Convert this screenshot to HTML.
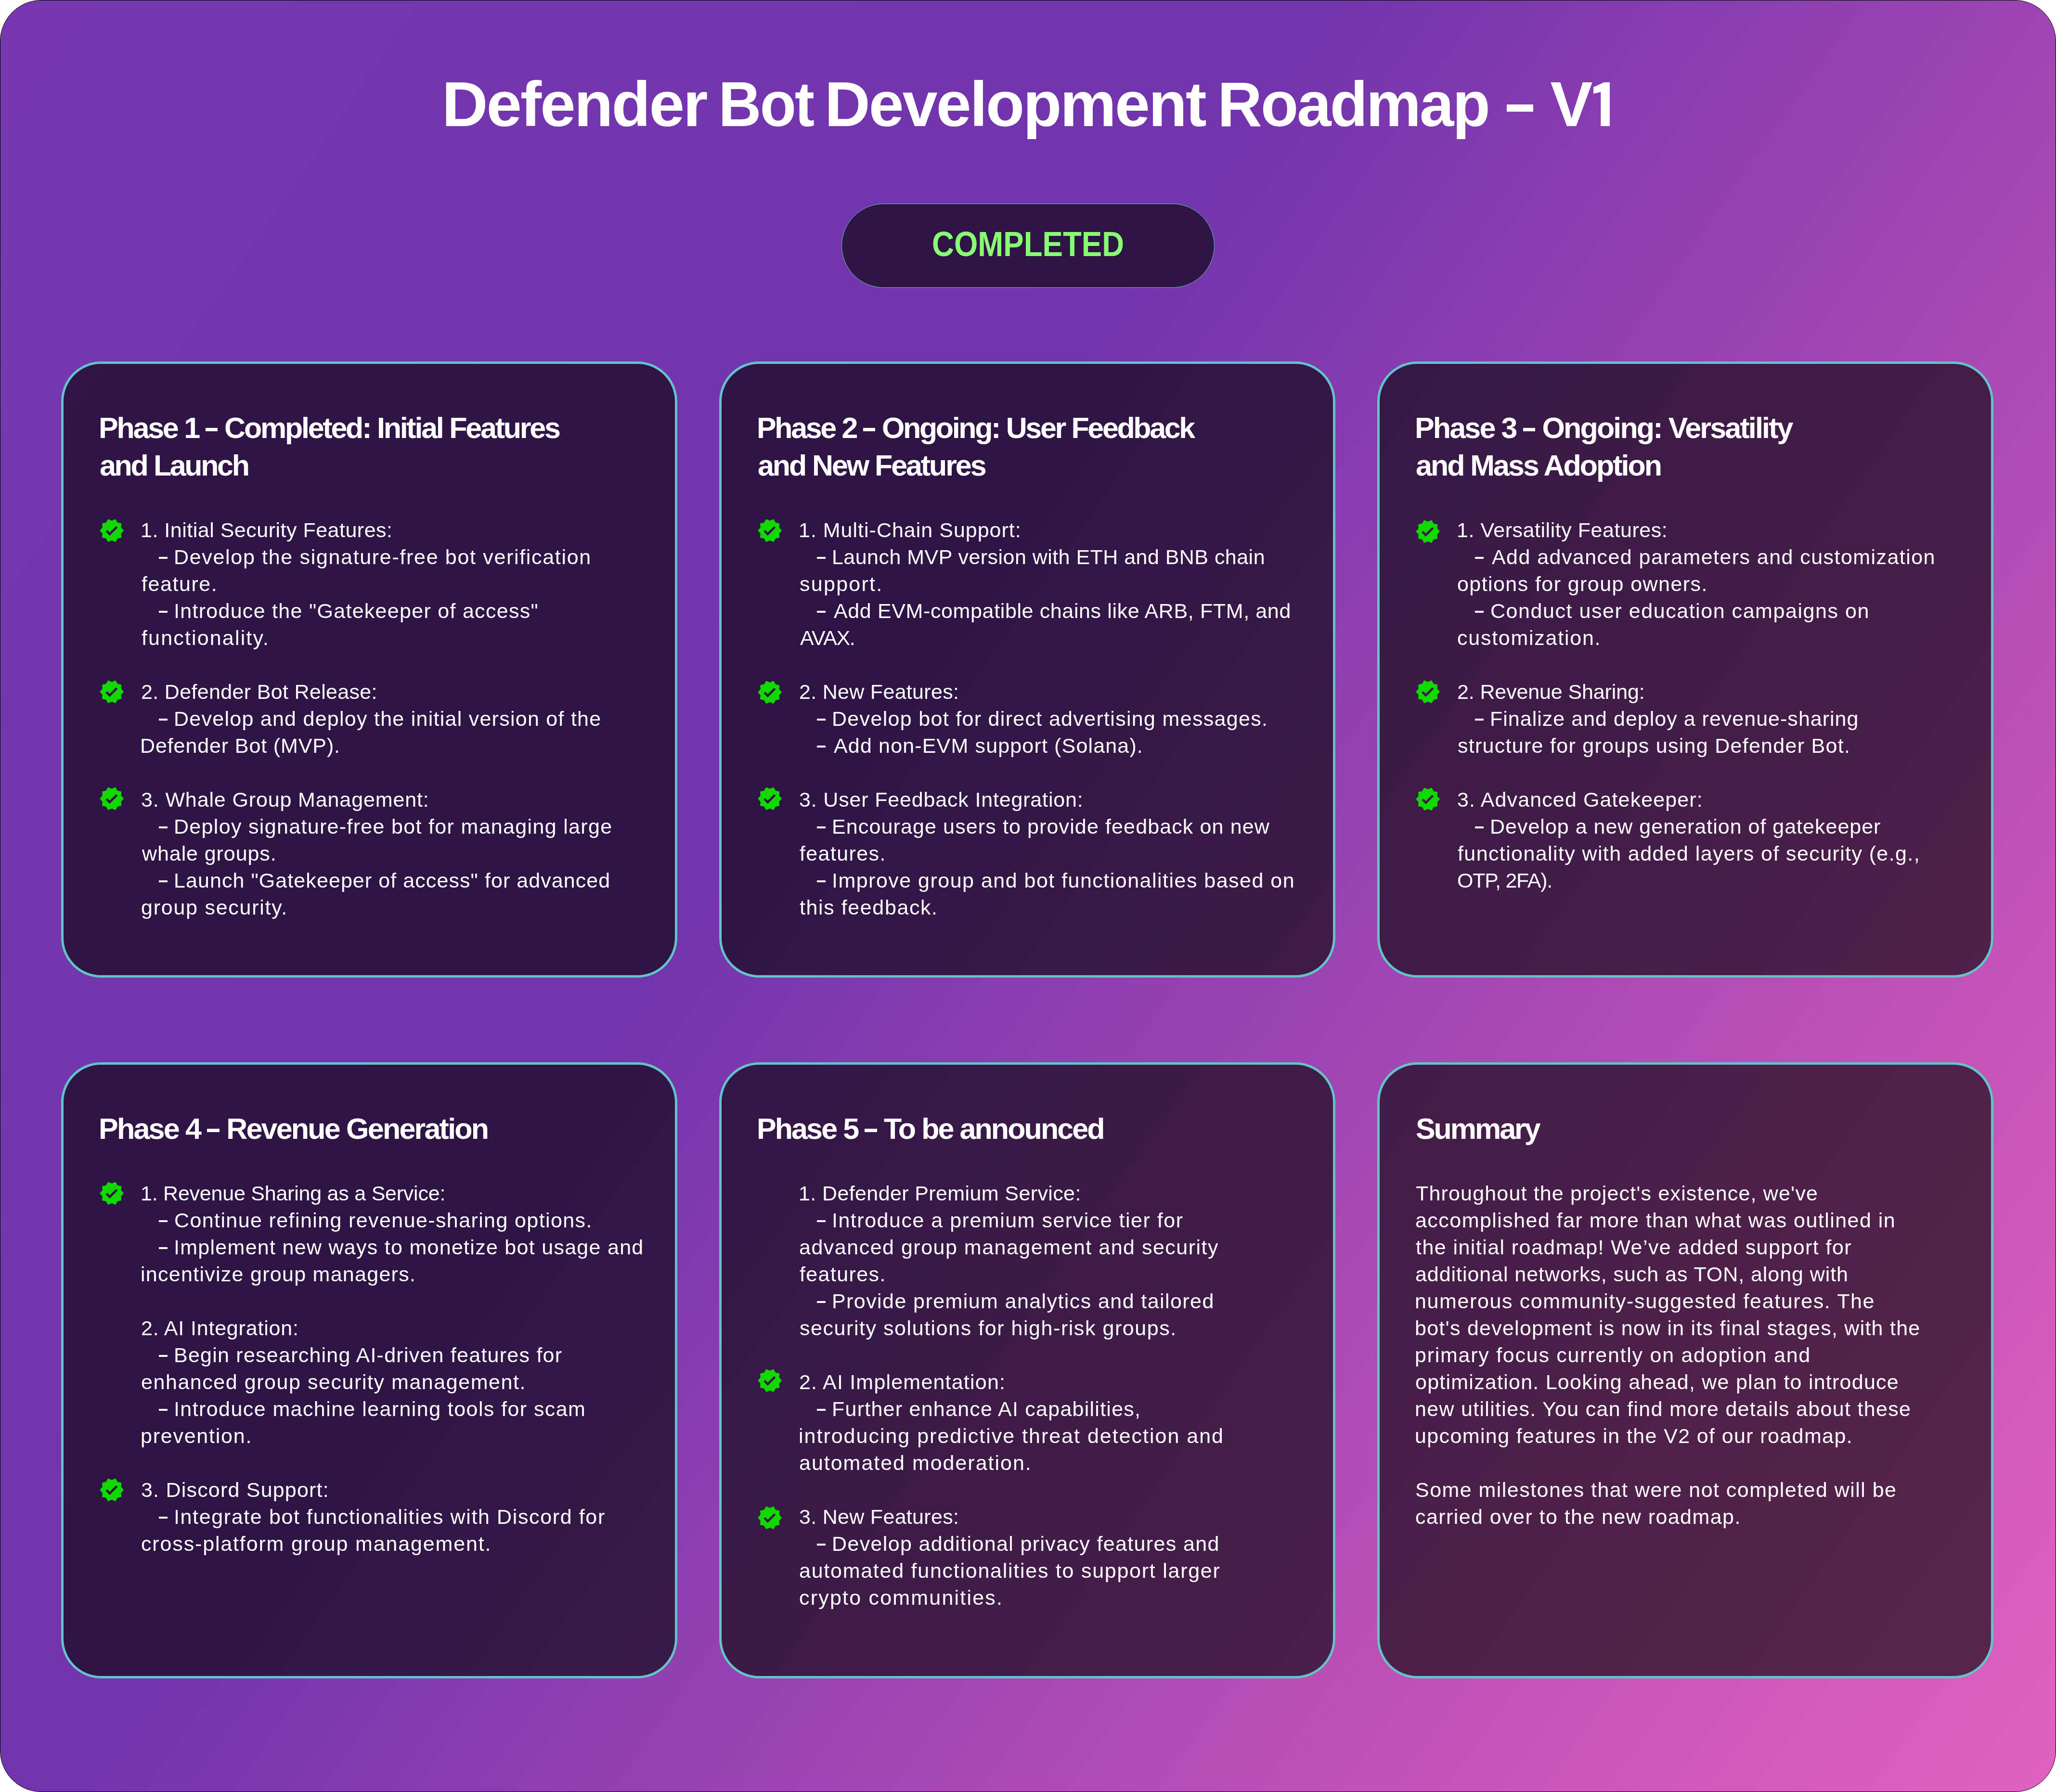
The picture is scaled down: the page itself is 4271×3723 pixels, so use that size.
<!DOCTYPE html>
<html><head><meta charset="utf-8"><title>Defender Bot Development Roadmap - V1</title>
<style>
html,body{margin:0;padding:0;background:#fff;}
body{width:4271px;height:3723px;position:relative;overflow:hidden;font-family:"Liberation Sans",sans-serif;}
.frame{position:absolute;left:0;top:0;width:4269px;height:3721px;border:1px solid #000;border-radius:86px;
 background:linear-gradient(125deg,#7637b0 0%,#7234ad 40%,#c453b8 81%,#e062bf 100%);overflow:hidden}
.card{position:absolute;width:1270px;height:1270px;border:5px solid #62c3c9;border-radius:83px;background:rgba(0,0,0,0.6);}
.hd{position:absolute;white-space:pre;will-change:transform;color:#fff;font-weight:700;font-size:61.0px;line-height:78px;}
.bd{position:absolute;white-space:pre;will-change:transform;color:#fff;font-weight:400;font-size:43.0px;line-height:56px;}
.icw{position:absolute;width:54.4px;height:54.4px}
.ic{width:54.4px;height:54.4px;display:block;fill:#10d800}
.title{position:absolute;top:132.54px;line-height:167.44px;white-space:pre;color:#fff;font-weight:700;font-size:132.0px;}
.tbar{position:absolute;left:3130px;top:217px;width:55px;height:15px;background:#fff}
.bdash{position:absolute;width:17.8px;height:3.9px;background:#fff}
.db{display:inline-block;width:25.7px;height:7px;background:#fff;margin-bottom:14px}
.pill{position:absolute;left:1748px;top:423px;width:773px;height:173px;border:1.2px solid #62c3c9;border-radius:88px;background:rgba(0,0,0,0.6)}
.cmp{position:absolute;left:1936.0px;white-space:pre;color:#88ff72;font-weight:700;font-size:71.5px;letter-spacing:0px;line-height:100px;transform:scaleX(0.889);transform-origin:0 0}
</style></head><body>
<div class="frame"></div>
<div class="title" id="t0" style="left:918.07px;letter-spacing:-3.000px;transform:scaleX(1.0024);transform-origin:8.83px 0">Defender</div>
<div class="title" id="t1" style="left:1491.57px;letter-spacing:-3.000px;transform:scaleX(0.9324);transform-origin:8.83px 0">Bot</div>
<div class="title" id="t2" style="left:1712.87px;letter-spacing:-3.000px;transform:scaleX(0.9935);transform-origin:8.83px 0">Development</div>
<div class="title" id="t3" style="left:2528.87px;letter-spacing:-3.000px;transform:scaleX(0.9710);transform-origin:8.83px 0">Roadmap</div>

<div class="tbar"></div>
<div class="title" id="title2" style="left:3220.4px;letter-spacing:-4.0px">V</div>
<svg style="position:absolute;left:3300px;top:160px" width="60" height="110" viewBox="3300 160 60 110"><polygon fill="#fff" points="3332.3,170.9 3344,170.9 3344,262 3325.3,262 3325.3,191 3310.1,194.7 3310.1,181.1"/></svg>
<div class="pill"></div>
<div class="cmp" id="cmp" style="top:456.73px">COMPLETED</div>
<div class="card" style="left:127px;top:751px"></div>
<div class="card" style="left:1494px;top:751px"></div>
<div class="card" style="left:2861px;top:751px"></div>
<div class="card" style="left:127px;top:2207px"></div>
<div class="card" style="left:1494px;top:2207px"></div>
<div class="card" style="left:2861px;top:2207px"></div>
<div id="h0_0" class="hd" style="left:204.92px;top:849.50px;letter-spacing:-3.236px">Phase 1 <span class=db></span> Completed: Initial Features</div>
<div id="h0_1" class="hd" style="left:207.21px;top:927.50px;letter-spacing:-3.377px">and Launch</div>
<div id="b0_0" class="bd" style="left:291.72px;top:1073.00px;letter-spacing:0.499px">1. Initial Security Features:</div>
<div class="icw" style="left:204.60px;top:1075.20px"><svg class="ic" viewBox="0 0 24 24"><path d="M23 12l-2.44-2.79.34-3.69-3.61-.82-1.89-3.2L12 2.96 8.6 1.5 6.71 4.69 3.1 5.5l.34 3.7L1 12l2.44 2.79-.34 3.7 3.61.82L8.6 22.5l3.4-1.47 3.4 1.46 1.89-3.19 3.61-.82-.34-3.69L23 12zm-12.91 4.72l-3.8-3.81 1.48-1.48 2.32 2.33 5.85-5.87 1.48 1.48-7.33 7.35z"/></svg></div>
<div class="bdash" style="left:330.00px;top:1157.15px"></div>
<div id="b0_1" class="bd" style="left:361.07px;top:1129.00px;letter-spacing:1.672px">Develop the signature-free bot verification</div>
<div id="b0_2" class="bd" style="left:294.39px;top:1185.00px;letter-spacing:1.548px">feature.</div>
<div class="bdash" style="left:330.00px;top:1269.15px"></div>
<div id="b0_3" class="bd" style="left:360.63px;top:1241.00px;letter-spacing:1.284px">Introduce the "Gatekeeper of access"</div>
<div id="b0_4" class="bd" style="left:294.39px;top:1297.00px;letter-spacing:2.158px">functionality.</div>
<div id="b0_6" class="bd" style="left:292.84px;top:1409.00px;letter-spacing:0.335px">2. Defender Bot Release:</div>
<div class="icw" style="left:204.60px;top:1409.50px"><svg class="ic" viewBox="0 0 24 24"><path d="M23 12l-2.44-2.79.34-3.69-3.61-.82-1.89-3.2L12 2.96 8.6 1.5 6.71 4.69 3.1 5.5l.34 3.7L1 12l2.44 2.79-.34 3.7 3.61.82L8.6 22.5l3.4-1.47 3.4 1.46 1.89-3.19 3.61-.82-.34-3.69L23 12zm-12.91 4.72l-3.8-3.81 1.48-1.48 2.32 2.33 5.85-5.87 1.48 1.48-7.33 7.35z"/></svg></div>
<div class="bdash" style="left:330.00px;top:1493.15px"></div>
<div id="b0_7" class="bd" style="left:361.07px;top:1465.00px;letter-spacing:1.257px">Develop and deploy the initial version of the</div>
<div id="b0_8" class="bd" style="left:291.47px;top:1521.00px;letter-spacing:0.887px">Defender Bot (MVP).</div>
<div id="b0_10" class="bd" style="left:293.36px;top:1633.00px;letter-spacing:0.868px">3. Whale Group Management:</div>
<div class="icw" style="left:204.60px;top:1631.90px"><svg class="ic" viewBox="0 0 24 24"><path d="M23 12l-2.44-2.79.34-3.69-3.61-.82-1.89-3.2L12 2.96 8.6 1.5 6.71 4.69 3.1 5.5l.34 3.7L1 12l2.44 2.79-.34 3.7 3.61.82L8.6 22.5l3.4-1.47 3.4 1.46 1.89-3.19 3.61-.82-.34-3.69L23 12zm-12.91 4.72l-3.8-3.81 1.48-1.48 2.32 2.33 5.85-5.87 1.48 1.48-7.33 7.35z"/></svg></div>
<div class="bdash" style="left:330.00px;top:1717.15px"></div>
<div id="b0_11" class="bd" style="left:361.07px;top:1689.00px;letter-spacing:1.320px">Deploy signature-free bot for managing large</div>
<div id="b0_12" class="bd" style="left:295.06px;top:1745.00px;letter-spacing:0.915px">whale groups.</div>
<div class="bdash" style="left:330.00px;top:1829.15px"></div>
<div id="b0_13" class="bd" style="left:361.07px;top:1801.00px;letter-spacing:1.070px">Launch "Gatekeeper of access" for advanced</div>
<div id="b0_14" class="bd" style="left:293.19px;top:1857.00px;letter-spacing:1.748px">group security.</div>
<div id="h1_0" class="hd" style="left:1571.92px;top:849.50px;letter-spacing:-3.362px">Phase 2 <span class=db></span> Ongoing: User Feedback</div>
<div id="h1_1" class="hd" style="left:1574.21px;top:927.50px;letter-spacing:-3.098px">and New Features</div>
<div id="b1_0" class="bd" style="left:1658.72px;top:1073.00px;letter-spacing:0.999px">1. Multi-Chain Support:</div>
<div class="icw" style="left:1571.60px;top:1075.00px"><svg class="ic" viewBox="0 0 24 24"><path d="M23 12l-2.44-2.79.34-3.69-3.61-.82-1.89-3.2L12 2.96 8.6 1.5 6.71 4.69 3.1 5.5l.34 3.7L1 12l2.44 2.79-.34 3.7 3.61.82L8.6 22.5l3.4-1.47 3.4 1.46 1.89-3.19 3.61-.82-.34-3.69L23 12zm-12.91 4.72l-3.8-3.81 1.48-1.48 2.32 2.33 5.85-5.87 1.48 1.48-7.33 7.35z"/></svg></div>
<div class="bdash" style="left:1697.00px;top:1157.15px"></div>
<div id="b1_1" class="bd" style="left:1728.07px;top:1129.00px;letter-spacing:0.460px">Launch MVP version with ETH and BNB chain</div>
<div id="b1_2" class="bd" style="left:1660.80px;top:1185.00px;letter-spacing:2.266px">support.</div>
<div class="bdash" style="left:1697.00px;top:1269.15px"></div>
<div id="b1_3" class="bd" style="left:1731.52px;top:1241.00px;letter-spacing:0.624px">Add EVM-compatible chains like ARB, FTM, and</div>
<div id="b1_4" class="bd" style="left:1661.92px;top:1297.00px;letter-spacing:-1.425px">AVAX.</div>
<div id="b1_6" class="bd" style="left:1659.84px;top:1409.00px;letter-spacing:0.299px">2. New Features:</div>
<div class="icw" style="left:1571.60px;top:1411.30px"><svg class="ic" viewBox="0 0 24 24"><path d="M23 12l-2.44-2.79.34-3.69-3.61-.82-1.89-3.2L12 2.96 8.6 1.5 6.71 4.69 3.1 5.5l.34 3.7L1 12l2.44 2.79-.34 3.7 3.61.82L8.6 22.5l3.4-1.47 3.4 1.46 1.89-3.19 3.61-.82-.34-3.69L23 12zm-12.91 4.72l-3.8-3.81 1.48-1.48 2.32 2.33 5.85-5.87 1.48 1.48-7.33 7.35z"/></svg></div>
<div class="bdash" style="left:1697.00px;top:1493.15px"></div>
<div id="b1_7" class="bd" style="left:1728.07px;top:1465.00px;letter-spacing:1.314px">Develop bot for direct advertising messages.</div>
<div class="bdash" style="left:1697.00px;top:1549.15px"></div>
<div id="b1_8" class="bd" style="left:1731.52px;top:1521.00px;letter-spacing:1.154px">Add non-EVM support (Solana).</div>
<div id="b1_10" class="bd" style="left:1660.36px;top:1633.00px;letter-spacing:0.830px">3. User Feedback Integration:</div>
<div class="icw" style="left:1571.60px;top:1631.90px"><svg class="ic" viewBox="0 0 24 24"><path d="M23 12l-2.44-2.79.34-3.69-3.61-.82-1.89-3.2L12 2.96 8.6 1.5 6.71 4.69 3.1 5.5l.34 3.7L1 12l2.44 2.79-.34 3.7 3.61.82L8.6 22.5l3.4-1.47 3.4 1.46 1.89-3.19 3.61-.82-.34-3.69L23 12zm-12.91 4.72l-3.8-3.81 1.48-1.48 2.32 2.33 5.85-5.87 1.48 1.48-7.33 7.35z"/></svg></div>
<div class="bdash" style="left:1697.00px;top:1717.15px"></div>
<div id="b1_11" class="bd" style="left:1728.07px;top:1689.00px;letter-spacing:1.118px">Encourage users to provide feedback on new</div>
<div id="b1_12" class="bd" style="left:1661.39px;top:1745.00px;letter-spacing:1.380px">features.</div>
<div class="bdash" style="left:1697.00px;top:1829.15px"></div>
<div id="b1_13" class="bd" style="left:1727.63px;top:1801.00px;letter-spacing:1.479px">Improve group and bot functionalities based on</div>
<div id="b1_14" class="bd" style="left:1661.35px;top:1857.00px;letter-spacing:1.592px">this feedback.</div>
<div id="h2_0" class="hd" style="left:2938.92px;top:849.50px;letter-spacing:-2.852px">Phase 3 <span class=db></span> Ongoing: Versatility</div>
<div id="h2_1" class="hd" style="left:2941.21px;top:927.50px;letter-spacing:-3.020px">and Mass Adoption</div>
<div id="b2_0" class="bd" style="left:3025.72px;top:1073.00px;letter-spacing:0.533px">1. Versatility Features:</div>
<div class="icw" style="left:2938.60px;top:1076.90px"><svg class="ic" viewBox="0 0 24 24"><path d="M23 12l-2.44-2.79.34-3.69-3.61-.82-1.89-3.2L12 2.96 8.6 1.5 6.71 4.69 3.1 5.5l.34 3.7L1 12l2.44 2.79-.34 3.7 3.61.82L8.6 22.5l3.4-1.47 3.4 1.46 1.89-3.19 3.61-.82-.34-3.69L23 12zm-12.91 4.72l-3.8-3.81 1.48-1.48 2.32 2.33 5.85-5.87 1.48 1.48-7.33 7.35z"/></svg></div>
<div class="bdash" style="left:3064.00px;top:1157.15px"></div>
<div id="b2_1" class="bd" style="left:3098.52px;top:1129.00px;letter-spacing:1.440px">Add advanced parameters and customization</div>
<div id="b2_2" class="bd" style="left:3027.19px;top:1185.00px;letter-spacing:1.421px">options for group owners.</div>
<div class="bdash" style="left:3064.00px;top:1269.15px"></div>
<div id="b2_3" class="bd" style="left:3096.42px;top:1241.00px;letter-spacing:1.543px">Conduct user education campaigns on</div>
<div id="b2_4" class="bd" style="left:3027.17px;top:1297.00px;letter-spacing:1.746px">customization.</div>
<div id="b2_6" class="bd" style="left:3026.84px;top:1409.00px;letter-spacing:-0.130px">2. Revenue Sharing:</div>
<div class="icw" style="left:2938.60px;top:1410.20px"><svg class="ic" viewBox="0 0 24 24"><path d="M23 12l-2.44-2.79.34-3.69-3.61-.82-1.89-3.2L12 2.96 8.6 1.5 6.71 4.69 3.1 5.5l.34 3.7L1 12l2.44 2.79-.34 3.7 3.61.82L8.6 22.5l3.4-1.47 3.4 1.46 1.89-3.19 3.61-.82-.34-3.69L23 12zm-12.91 4.72l-3.8-3.81 1.48-1.48 2.32 2.33 5.85-5.87 1.48 1.48-7.33 7.35z"/></svg></div>
<div class="bdash" style="left:3064.00px;top:1493.15px"></div>
<div id="b2_7" class="bd" style="left:3095.07px;top:1465.00px;letter-spacing:1.011px">Finalize and deploy a revenue-sharing</div>
<div id="b2_8" class="bd" style="left:3027.80px;top:1521.00px;letter-spacing:1.282px">structure for groups using Defender Bot.</div>
<div id="b2_10" class="bd" style="left:3027.36px;top:1633.00px;letter-spacing:1.111px">3. Advanced Gatekeeper:</div>
<div class="icw" style="left:2938.60px;top:1633.00px"><svg class="ic" viewBox="0 0 24 24"><path d="M23 12l-2.44-2.79.34-3.69-3.61-.82-1.89-3.2L12 2.96 8.6 1.5 6.71 4.69 3.1 5.5l.34 3.7L1 12l2.44 2.79-.34 3.7 3.61.82L8.6 22.5l3.4-1.47 3.4 1.46 1.89-3.19 3.61-.82-.34-3.69L23 12zm-12.91 4.72l-3.8-3.81 1.48-1.48 2.32 2.33 5.85-5.87 1.48 1.48-7.33 7.35z"/></svg></div>
<div class="bdash" style="left:3064.00px;top:1717.15px"></div>
<div id="b2_11" class="bd" style="left:3095.07px;top:1689.00px;letter-spacing:0.997px">Develop a new generation of gatekeeper</div>
<div id="b2_12" class="bd" style="left:3028.39px;top:1745.00px;letter-spacing:1.390px">functionality with added layers of security (e.g.,</div>
<div id="b2_13" class="bd" style="left:3026.96px;top:1801.00px;letter-spacing:-1.258px">OTP, 2FA).</div>
<div id="h3_0" class="hd" style="left:204.92px;top:2305.50px;letter-spacing:-2.783px">Phase 4 <span class=db></span> Revenue Generation</div>
<div id="b3_0" class="bd" style="left:291.72px;top:2451.00px;letter-spacing:-0.234px">1. Revenue Sharing as a Service:</div>
<div class="icw" style="left:204.60px;top:2452.40px"><svg class="ic" viewBox="0 0 24 24"><path d="M23 12l-2.44-2.79.34-3.69-3.61-.82-1.89-3.2L12 2.96 8.6 1.5 6.71 4.69 3.1 5.5l.34 3.7L1 12l2.44 2.79-.34 3.7 3.61.82L8.6 22.5l3.4-1.47 3.4 1.46 1.89-3.19 3.61-.82-.34-3.69L23 12zm-12.91 4.72l-3.8-3.81 1.48-1.48 2.32 2.33 5.85-5.87 1.48 1.48-7.33 7.35z"/></svg></div>
<div class="bdash" style="left:330.00px;top:2535.15px"></div>
<div id="b3_1" class="bd" style="left:362.42px;top:2507.00px;letter-spacing:1.392px">Continue refining revenue-sharing options.</div>
<div class="bdash" style="left:330.00px;top:2591.15px"></div>
<div id="b3_2" class="bd" style="left:360.63px;top:2563.00px;letter-spacing:1.280px">Implement new ways to monetize bot usage and</div>
<div id="b3_3" class="bd" style="left:292.12px;top:2619.00px;letter-spacing:1.274px">incentivize group managers.</div>
<div id="b3_5" class="bd" style="left:292.84px;top:2731.00px;letter-spacing:0.813px">2. AI Integration:</div>
<div class="bdash" style="left:330.00px;top:2815.15px"></div>
<div id="b3_6" class="bd" style="left:361.07px;top:2787.00px;letter-spacing:1.240px">Begin researching AI-driven features for</div>
<div id="b3_7" class="bd" style="left:293.17px;top:2843.00px;letter-spacing:1.548px">enhanced group security management.</div>
<div class="bdash" style="left:330.00px;top:2927.15px"></div>
<div id="b3_8" class="bd" style="left:360.63px;top:2899.00px;letter-spacing:1.415px">Introduce machine learning tools for scam</div>
<div id="b3_9" class="bd" style="left:292.23px;top:2955.00px;letter-spacing:1.760px">prevention.</div>
<div id="b3_11" class="bd" style="left:293.36px;top:3067.00px;letter-spacing:1.203px">3. Discord Support:</div>
<div class="icw" style="left:204.60px;top:3067.70px"><svg class="ic" viewBox="0 0 24 24"><path d="M23 12l-2.44-2.79.34-3.69-3.61-.82-1.89-3.2L12 2.96 8.6 1.5 6.71 4.69 3.1 5.5l.34 3.7L1 12l2.44 2.79-.34 3.7 3.61.82L8.6 22.5l3.4-1.47 3.4 1.46 1.89-3.19 3.61-.82-.34-3.69L23 12zm-12.91 4.72l-3.8-3.81 1.48-1.48 2.32 2.33 5.85-5.87 1.48 1.48-7.33 7.35z"/></svg></div>
<div class="bdash" style="left:330.00px;top:3151.15px"></div>
<div id="b3_12" class="bd" style="left:360.63px;top:3123.00px;letter-spacing:1.623px">Integrate bot functionalities with Discord for</div>
<div id="b3_13" class="bd" style="left:293.17px;top:3179.00px;letter-spacing:1.848px">cross-platform group management.</div>
<div id="h4_0" class="hd" style="left:1571.92px;top:2305.50px;letter-spacing:-2.917px">Phase 5 <span class=db></span> To be announced</div>
<div id="b4_0" class="bd" style="left:1658.72px;top:2451.00px;letter-spacing:0.385px">1. Defender Premium Service:</div>
<div class="bdash" style="left:1697.00px;top:2535.15px"></div>
<div id="b4_1" class="bd" style="left:1727.63px;top:2507.00px;letter-spacing:1.504px">Introduce a premium service tier for</div>
<div id="b4_2" class="bd" style="left:1660.17px;top:2563.00px;letter-spacing:1.497px">advanced group management and security</div>
<div id="b4_3" class="bd" style="left:1661.39px;top:2619.00px;letter-spacing:1.380px">features.</div>
<div class="bdash" style="left:1697.00px;top:2703.15px"></div>
<div id="b4_4" class="bd" style="left:1728.07px;top:2675.00px;letter-spacing:1.416px">Provide premium analytics and tailored</div>
<div id="b4_5" class="bd" style="left:1660.80px;top:2731.00px;letter-spacing:1.550px">security solutions for high-risk groups.</div>
<div id="b4_7" class="bd" style="left:1659.84px;top:2843.00px;letter-spacing:1.200px">2. AI Implementation:</div>
<div class="icw" style="left:1571.60px;top:2840.50px"><svg class="ic" viewBox="0 0 24 24"><path d="M23 12l-2.44-2.79.34-3.69-3.61-.82-1.89-3.2L12 2.96 8.6 1.5 6.71 4.69 3.1 5.5l.34 3.7L1 12l2.44 2.79-.34 3.7 3.61.82L8.6 22.5l3.4-1.47 3.4 1.46 1.89-3.19 3.61-.82-.34-3.69L23 12zm-12.91 4.72l-3.8-3.81 1.48-1.48 2.32 2.33 5.85-5.87 1.48 1.48-7.33 7.35z"/></svg></div>
<div class="bdash" style="left:1697.00px;top:2927.15px"></div>
<div id="b4_8" class="bd" style="left:1728.07px;top:2899.00px;letter-spacing:1.247px">Further enhance AI capabilities,</div>
<div id="b4_9" class="bd" style="left:1659.12px;top:2955.00px;letter-spacing:1.990px">introducing predictive threat detection and</div>
<div id="b4_10" class="bd" style="left:1660.17px;top:3011.00px;letter-spacing:1.975px">automated moderation.</div>
<div id="b4_12" class="bd" style="left:1660.36px;top:3123.00px;letter-spacing:0.299px">3. New Features:</div>
<div class="icw" style="left:1571.60px;top:3125.50px"><svg class="ic" viewBox="0 0 24 24"><path d="M23 12l-2.44-2.79.34-3.69-3.61-.82-1.89-3.2L12 2.96 8.6 1.5 6.71 4.69 3.1 5.5l.34 3.7L1 12l2.44 2.79-.34 3.7 3.61.82L8.6 22.5l3.4-1.47 3.4 1.46 1.89-3.19 3.61-.82-.34-3.69L23 12zm-12.91 4.72l-3.8-3.81 1.48-1.48 2.32 2.33 5.85-5.87 1.48 1.48-7.33 7.35z"/></svg></div>
<div class="bdash" style="left:1697.00px;top:3207.15px"></div>
<div id="b4_13" class="bd" style="left:1728.07px;top:3179.00px;letter-spacing:1.353px">Develop additional privacy features and</div>
<div id="b4_14" class="bd" style="left:1660.17px;top:3235.00px;letter-spacing:1.740px">automated functionalities to support larger</div>
<div id="b4_15" class="bd" style="left:1660.17px;top:3291.00px;letter-spacing:2.204px">crypto communities.</div>
<div id="h5_0" class="hd" style="left:2941.24px;top:2305.50px;letter-spacing:-3.064px">Summary</div>
<div id="b5_0" class="bd" style="left:2941.03px;top:2451.00px;letter-spacing:1.163px">Throughout the project's existence, we've</div>
<div id="b5_1" class="bd" style="left:2940.17px;top:2507.00px;letter-spacing:1.454px">accomplished far more than what was outlined in</div>
<div id="b5_2" class="bd" style="left:2941.35px;top:2563.00px;letter-spacing:1.432px">the initial roadmap! We’ve added support for</div>
<div id="b5_3" class="bd" style="left:2940.17px;top:2619.00px;letter-spacing:0.934px">additional networks, such as TON, along with</div>
<div id="b5_4" class="bd" style="left:2939.14px;top:2675.00px;letter-spacing:1.614px">numerous community-suggested features. The</div>
<div id="b5_5" class="bd" style="left:2939.23px;top:2731.00px;letter-spacing:1.242px">bot's development is now in its final stages, with the</div>
<div id="b5_6" class="bd" style="left:2939.23px;top:2787.00px;letter-spacing:1.735px">primary focus currently on adoption and</div>
<div id="b5_7" class="bd" style="left:2940.19px;top:2843.00px;letter-spacing:1.239px">optimization. Looking ahead, we plan to introduce</div>
<div id="b5_8" class="bd" style="left:2939.14px;top:2899.00px;letter-spacing:1.304px">new utilities. You can find more details about these</div>
<div id="b5_9" class="bd" style="left:2939.21px;top:2955.00px;letter-spacing:1.373px">upcoming features in the V2 of our roadmap.</div>
<div id="b5_11" class="bd" style="left:2940.05px;top:3067.00px;letter-spacing:1.452px">Some milestones that were not completed will be</div>
<div id="b5_12" class="bd" style="left:2940.17px;top:3123.00px;letter-spacing:1.430px">carried over to the new roadmap.</div>
</body></html>
